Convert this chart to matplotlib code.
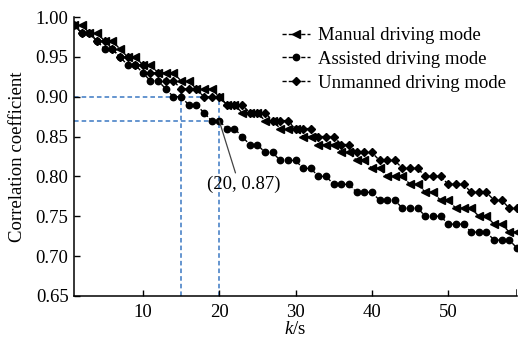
import matplotlib
matplotlib.use("Agg")
import matplotlib.pyplot as plt
import numpy as np

k = list(range(1, 60))

manual = [0.99, 0.99, 0.98, 0.98, 0.97, 0.97, 0.96, 0.95, 0.95, 0.94,
          0.94, 0.93, 0.93, 0.93, 0.92, 0.92, 0.91, 0.91, 0.91, 0.90,
          0.89, 0.89, 0.88, 0.88, 0.88, 0.87, 0.87, 0.86, 0.86, 0.86,
          0.85, 0.85, 0.84, 0.84, 0.84, 0.83, 0.83, 0.82, 0.82, 0.81,
          0.81, 0.80, 0.80, 0.80, 0.79, 0.79, 0.78, 0.78, 0.77, 0.77,
          0.76, 0.76, 0.76, 0.75, 0.75, 0.74, 0.74, 0.73, 0.73]

assisted = [0.99, 0.98, 0.98, 0.97, 0.96, 0.96, 0.95, 0.94, 0.94, 0.93,
            0.92, 0.92, 0.91, 0.90, 0.90, 0.89, 0.89, 0.88, 0.87, 0.87,
            0.86, 0.86, 0.85, 0.84, 0.84, 0.83, 0.83, 0.82, 0.82, 0.82,
            0.81, 0.81, 0.80, 0.80, 0.79, 0.79, 0.79, 0.78, 0.78, 0.78,
            0.77, 0.77, 0.77, 0.76, 0.76, 0.76, 0.75, 0.75, 0.75, 0.74,
            0.74, 0.74, 0.73, 0.73, 0.73, 0.72, 0.72, 0.72, 0.71]

unmanned = [0.99, 0.98, 0.98, 0.97, 0.97, 0.96, 0.95, 0.95, 0.94, 0.94,
            0.93, 0.93, 0.92, 0.92, 0.91, 0.91, 0.91, 0.90, 0.90, 0.90,
            0.89, 0.89, 0.89, 0.88, 0.88, 0.88, 0.87, 0.87, 0.87, 0.86,
            0.86, 0.86, 0.85, 0.85, 0.85, 0.84, 0.84, 0.83, 0.83, 0.83,
            0.82, 0.82, 0.82, 0.81, 0.81, 0.81, 0.80, 0.80, 0.80, 0.79,
            0.79, 0.79, 0.78, 0.78, 0.78, 0.77, 0.77, 0.76, 0.76]

labels = ["Manual driving mode", "Assisted driving mode", "Unmanned driving mode"]
xticks = [10, 20, 30, 40, 50]
yticks = [0.65, 0.70, 0.75, 0.80, 0.85, 0.90, 0.95, 1.00]

plt.rcParams['font.family'] = ['Liberation Serif', 'DejaVu Serif']
plt.rcParams['font.size'] = 13.5
plt.rcParams['mathtext.fontset'] = 'custom'
plt.rcParams['mathtext.it'] = 'Liberation Serif:italic'
plt.rcParams['mathtext.rm'] = 'Liberation Serif'

fig = plt.figure(figsize=(5.18, 3.42), dpi=100)
ax = fig.add_axes([0.143, 0.135, 0.855, 0.815])

blue = '#3a78c2'
ax.plot([1, 20], [0.90, 0.90], ls=(0, (3, 2)), color=blue, lw=1.1, zorder=1)
ax.plot([1, 20], [0.87, 0.87], ls=(0, (3, 2)), color=blue, lw=1.1, zorder=1)
ax.plot([15, 15], [0.65, 0.91], ls=(0, (3, 2)), color=blue, lw=1.1, zorder=1)
ax.plot([20, 20], [0.65, 0.90], ls=(0, (3, 2)), color=blue, lw=1.1, zorder=1)

ax.plot(k, manual, ls=(0, (3, 1.5)), lw=1.0, color='black', marker='<', ms=5.3, label=labels[0], zorder=3)
ax.plot(k, assisted, ls=(0, (3, 1.5)), lw=1.0, color='black', marker='o', ms=4.6, label=labels[1], zorder=3)
ax.plot(k, unmanned, ls=(0, (3, 1.5)), lw=1.0, color='black', marker='D', ms=3.9, label=labels[2], zorder=3)

ax.annotate("(20, 0.87)", xy=(20, 0.87), xytext=(18.4, 0.79), ha='left', va='center',
            arrowprops=dict(arrowstyle='-', color='#444444', lw=0.9, shrinkA=0, shrinkB=0,
                            relpos=(0.4, 1.0)))

ax.set_xlim(1, 59)
ax.set_ylim(0.65, 1.00)
ax.set_xticks(xticks)
ax.set_yticks(yticks)
ax.set_yticklabels([f"{v:.2f}" for v in yticks])
ax.tick_params(direction='in', length=4, width=1)
ax.tick_params(axis='x', pad=6)
ax.tick_params(axis='y', pad=4)
for s in ['top', 'right']:
    ax.spines[s].set_visible(False)
for s in ['left', 'bottom']:
    ax.spines[s].set_linewidth(1.1)
ax.axvline(59, ymin=0, ymax=0.02, color='black', lw=1.1)

ax.set_xlabel(r"$\mathit{k}$/s", labelpad=0)
ax.set_ylabel("Correlation coefficient", labelpad=7)

leg = ax.legend(loc='upper right', bbox_to_anchor=(1.0, 1.005), frameon=False,
                handlelength=1.5, handletextpad=0.4, labelspacing=0.36, borderaxespad=0.2)

fig.savefig("out.png", dpi=100)
